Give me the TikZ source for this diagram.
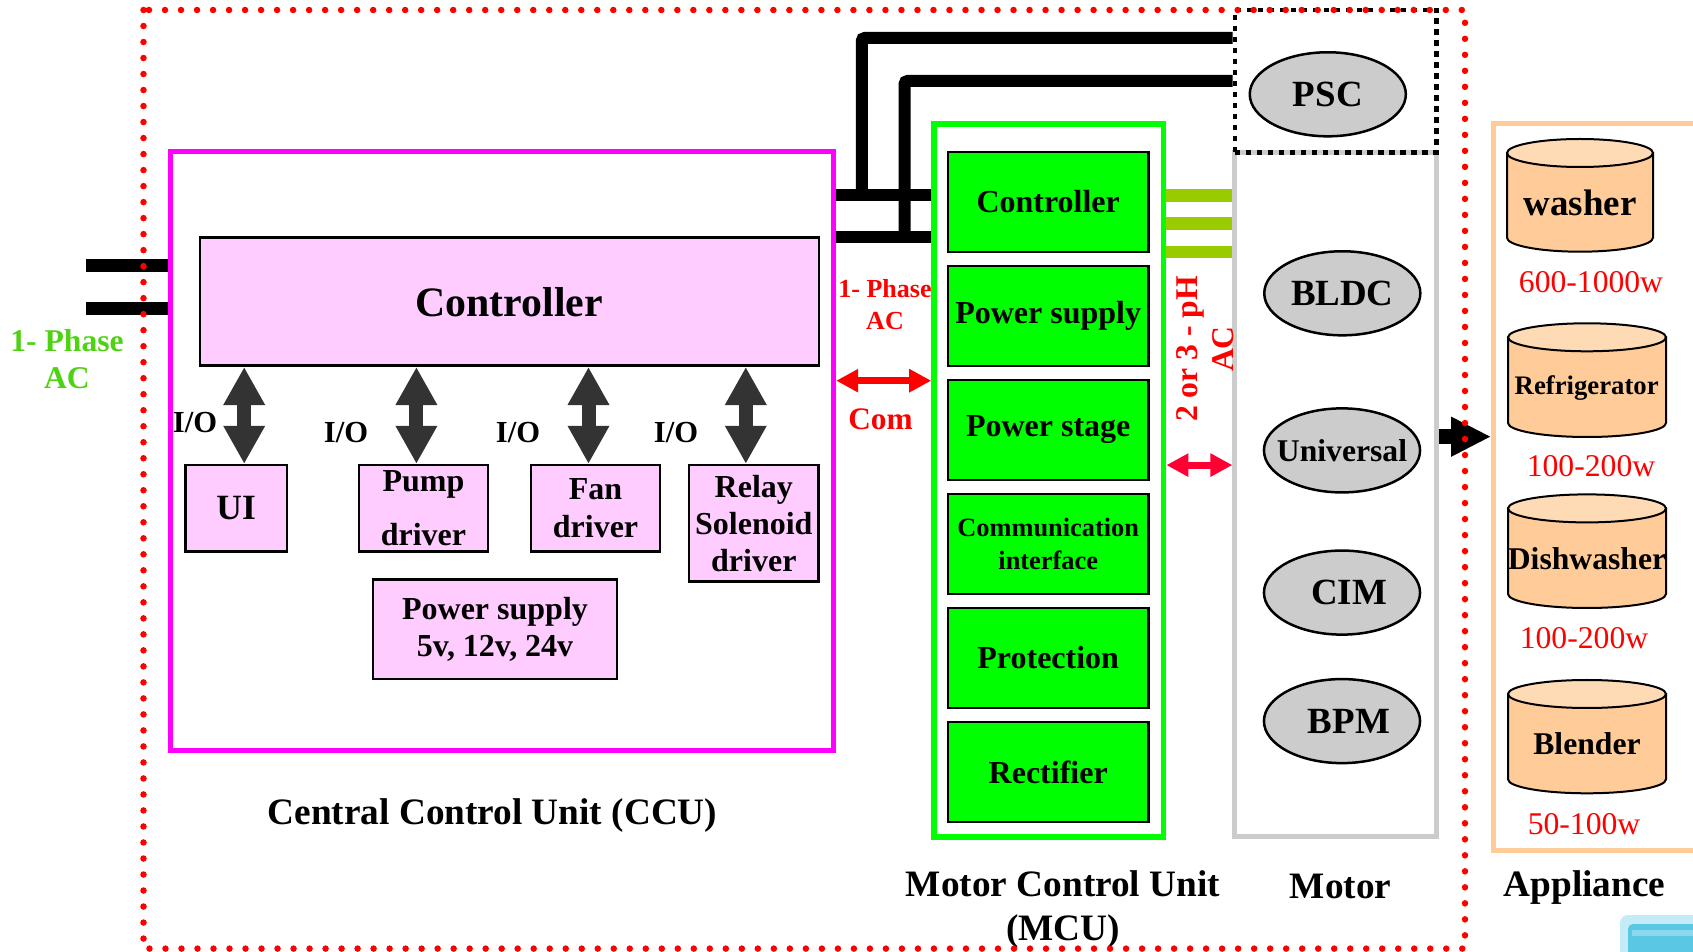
\documentclass[tikz,border=0pt]{standalone}
\usepackage{fontspec}
\setmainfont{Liberation Serif}
\usetikzlibrary{arrows.meta,shapes.geometric,calc}

\definecolor{pinkfill}{HTML}{FFCCFF}
\definecolor{cculine}{HTML}{FF00FF}
\definecolor{mcugreen}{HTML}{00FF00}
\definecolor{barolive}{HTML}{99CC00}
\definecolor{motorgray}{HTML}{CCCCCC}
\definecolor{cylfill}{HTML}{FFCC99}
\definecolor{cyllight}{HTML}{FFDBB5}
\definecolor{iogray}{HTML}{333333}
\definecolor{phasegreen}{RGB}{80,210,20}
\definecolor{arrred}{RGB}{255,0,51}
\definecolor{tabcyan}{RGB}{90,200,228}

\begin{document}
\begin{tikzpicture}[x=0.01cm, y=-0.01cm,
  box/.style={draw, line width=0.025cm, fill=pinkfill, inner sep=0pt, align=center, font=\bfseries\fontsize{9.1}{10.5}\selectfont},
  mbox/.style={draw, line width=0.025cm, fill=mcugreen, minimum width=2.005cm, minimum height=0.995cm, inner sep=0pt, align=center, font=\bfseries\fontsize{9.1}{10.5}\selectfont},
  motor/.style={ellipse, draw, line width=0.025cm, fill=motorgray, minimum width=1.56cm, minimum height=0.84cm, inner sep=0pt, font=\bfseries\fontsize{10.5}{12}\selectfont},
  wire/.style={line width=0.12cm},
  io/.style={draw=iogray, line width=0.14cm, {Triangle[width=0.39cm,length=0.38cm]}-{Triangle[width=0.39cm,length=0.38cm]}},
  comarrow/.style={line width=0.07cm, {Triangle[width=0.22cm,length=0.22cm]}-{Triangle[width=0.22cm,length=0.22cm]}},
  iolabel/.style={font=\bfseries\fontsize{8.7}{10}\selectfont},
  cylbody/.style={fill=cylfill, draw, line width=0.02cm},
  cyltop/.style={fill=cyllight, draw, line width=0.02cm},
  appname/.style={font=\bfseries\fontsize{9}{10.5}\selectfont},
  watt/.style={text=red, font=\fontsize{9}{10.5}\selectfont},
  title/.style={font=\bfseries\fontsize{10.6}{12.5}\selectfont, align=center}]

\useasboundingbox (0,0) rectangle (1693,952);

% central control unit
\node[draw=cculine, line width=0.05cm, minimum width=6.63cm, minimum height=5.987cm] (ccu) at (502,451) {};
\node[box, minimum width=6.186cm, minimum height=1.28cm, font=\bfseries\fontsize{11.9}{14}\selectfont] (ctrl) at (509.3,301.7) {Controller};
\node[box, minimum width=1.016cm, minimum height=0.863cm, font=\bfseries\fontsize{10.1}{12}\selectfont] (ui) at (236.2,508.3) {UI};
\node[box, minimum width=1.292cm, minimum height=0.863cm, font=\bfseries\fontsize{9.1}{15.5}\selectfont] (pump) at (423.4,508.3) {Pump\\driver};
\node[box, minimum width=1.29cm, minimum height=0.863cm, font=\bfseries\fontsize{9.1}{11}\selectfont] (fan) at (595.5,508.3) {Fan\\driver};
\node[box, minimum width=1.296cm, minimum height=1.162cm] (relay) at (753.8,523.2) {Relay\\Solenoid\\driver};
\node[box, minimum width=2.44cm, minimum height=0.996cm] (psu) at (495,629.4) {Power supply\\5v, 12v, 24v};

\draw[io] ($(ui.north |- ctrl.south)+(8,0)$) -- ($(ui.north)+(8,0)$);
\draw[io] ($(pump.north |- ctrl.south)+(-7,0)$) -- ($(pump.north)+(-7,0)$);
\draw[io] ($(fan.north |- ctrl.south)+(-7,0)$) -- ($(fan.north)+(-7,0)$);
\draw[io] ($(relay.north |- ctrl.south)+(-8,0)$) -- ($(relay.north)+(-8,0)$);
\node[iolabel] (io1) at (195,423) {I/O};
\node[iolabel] (io2) at (346,433) {I/O};
\node[iolabel] (io3) at (518,433) {I/O};
\node[iolabel] (io4) at (676,433) {I/O};

\node[title] (ccutitle) at (492.5,816) {Central Control Unit (CCU)};

% single phase input
\coordinate (acin1) at (86,266);
\coordinate (acin2) at (86,308.7);
\draw[wire, line width=0.13cm] (acin1) -- (acin1 -| ccu.west);
\draw[wire, line width=0.13cm] (acin2) -- (acin2 -| ccu.west);
\node[text=phasegreen, align=center, font=\bfseries\fontsize{9}{10.5}\selectfont] (acleft) at (67,359.5) {1- Phase\\AC};

% motor control unit
\node[draw=mcugreen, line width=0.055cm, minimum width=2.295cm, minimum height=7.126cm] (mcu) at (1048.8,480.3) {};
\node[mbox] (mctrl) at (1048.2,202) {Controller};
\node[mbox] (mps) at (1048.2,316) {Power supply};
\node[mbox] (mstage) at (1048.2,430) {Power stage};
\node[mbox, font=\bfseries\fontsize{7.5}{9.4}\selectfont] (mcomm) at (1048.2,544) {Communication\\interface};
\node[mbox] (mprot) at (1048.2,658) {Protection};
\node[mbox] (mrect) at (1048.2,772) {Rectifier};
\node[title] (mcutitle) at (1063,910) {Motor Control Unit\\(MCU)};

\coordinate (j1) at (861.8,195);
\coordinate (j2) at (904.6,237.3);
\draw[wire] (ccu.east |- j1) -- (mcu.west |- j1);
\draw[wire] (ccu.east |- j2) -- (mcu.west |- j2);
\node[text=red, align=center, font=\bfseries\fontsize{7.4}{9.1}\selectfont] (acmid) at (885,305) {1- Phase\\AC};
\draw[red, comarrow] (ccu.east |- 0,380.7) -- (mcu.west |- 0,380.7);
\node[text=red, font=\bfseries\fontsize{8.9}{10}\selectfont] (com) at (880.5,419) {Com};

% motors
\node[draw=motorgray, line width=0.05cm, minimum width=2.01cm, minimum height=6.843cm] (motorbox) at (1335.5,494.5) {};
\node[draw, line width=0.045cm, dash pattern=on 0.055cm off 0.055cm, minimum width=2.014cm, minimum height=1.423cm] (pscbox) at (1335.7,81.2) {};
\node[motor] (psc) at (1327.8,94.3) {\makebox[0pt]{PSC}};
\node[motor] (bldc) at (1342.3,293.3) {\makebox[0pt]{BLDC}};
\node[motor, font=\bfseries\fontsize{9}{11}\selectfont] (univ) at (1342,450.4) {\makebox[0pt]{Universal}};
\node[motor] (cim) at (1342,592.6) {\makebox[0pt]{\hspace{0.14cm}CIM}};
\node[motor] (bpm) at (1342,721.1) {\makebox[0pt]{\hspace{0.14cm}BPM}};
\node[title] (motortitle) at (1340.6,886) {Motor};

\draw[wire, rounded corners=0.03cm] (j1) -- (j1 |- 0,38) -- (pscbox.west |- 0,38);
\draw[wire, rounded corners=0.03cm] (j2) -- (j2 |- 0,81) -- (pscbox.west |- 0,81);

\draw[barolive, line width=0.125cm] (mcu.east |- 0,195.5) -- (motorbox.west |- 0,195.5);
\draw[barolive, line width=0.125cm] (mcu.east |- 0,223.7) -- (motorbox.west |- 0,223.7);
\draw[barolive, line width=0.125cm] (mcu.east |- 0,252) -- (motorbox.west |- 0,252);
\node[text=red, rotate=90, align=center, font=\bfseries\fontsize{9}{10.2}\selectfont] (acout) at (1205.6,349) {2 or 3 - pH\\AC};
\draw[arrred, comarrow] (mcu.east |- 0,465.1) -- (motorbox.west |- 0,465.1);

% appliances
\node[draw=cylfill, line width=0.05cm, minimum width=2.05cm, minimum height=7.267cm] (appl) at (1596.2,487.35) {};
\draw[line width=0.15cm, -{Triangle[width=0.37cm,length=0.4cm]}] (motorbox.east |- 0,436.7) -- (appl.west |- 0,436.7);

\filldraw[cylbody] (1507,153) -- (1507,237.7) arc[start angle=180, end angle=0, x radius=73, y radius=14] -- (1653,153) -- cycle;
\filldraw[cyltop] (1580,153) ellipse[x radius=73, y radius=14];
\node[appname, font=\bfseries\fontsize{10.5}{12}\selectfont] (washer) at (1580,203) {washer};
\node[watt] (w1) at (1591,281.7) {600-1000w};

\filldraw[cylbody] (1508,337.3) -- (1508,423) arc[start angle=180, end angle=0, x radius=79, y radius=14] -- (1666,337.3) -- cycle;
\filldraw[cyltop] (1587,337.3) ellipse[x radius=79, y radius=14];
\node[appname, font=\bfseries\fontsize{7.6}{9}\selectfont] (fridge) at (1586.7,387.7) {Refrigerator};
\node[watt] (w2) at (1591,466) {100-200w};

\filldraw[cylbody] (1508,508.4) -- (1508,594) arc[start angle=180, end angle=0, x radius=79, y radius=14] -- (1666,508.4) -- cycle;
\filldraw[cyltop] (1587,508.4) ellipse[x radius=79, y radius=14];
\node[appname] (dish) at (1587,558.5) {Dishwasher};
\node[watt] (w3) at (1584,638.5) {100-200w};

\filldraw[cylbody] (1508,694) -- (1508,779.3) arc[start angle=180, end angle=0, x radius=79, y radius=14] -- (1666,694) -- cycle;
\filldraw[cyltop] (1587,694) ellipse[x radius=79, y radius=14];
\node[appname] (blender) at (1587,743.3) {Blender};
\node[watt] (w4) at (1584,823.7) {50-100w};

\node[title] (appltitle) at (1584.5,888) {Appliance};

% outer frame
\draw[red, line width=0.065cm, line cap=round, dash pattern=on 0pt off 0.16cm] (143.5,10) rectangle (1465,948.6);

% corner of next slide
\fill[tabcyan!35, rounded corners=0.08cm] (1620,915) rectangle (1720,980);
\fill[tabcyan, rounded corners=0.05cm] (1628,924) rectangle (1720,980);
\fill[tabcyan!70!white] (1632,930) rectangle (1720,936);
\end{tikzpicture}
\end{document}
